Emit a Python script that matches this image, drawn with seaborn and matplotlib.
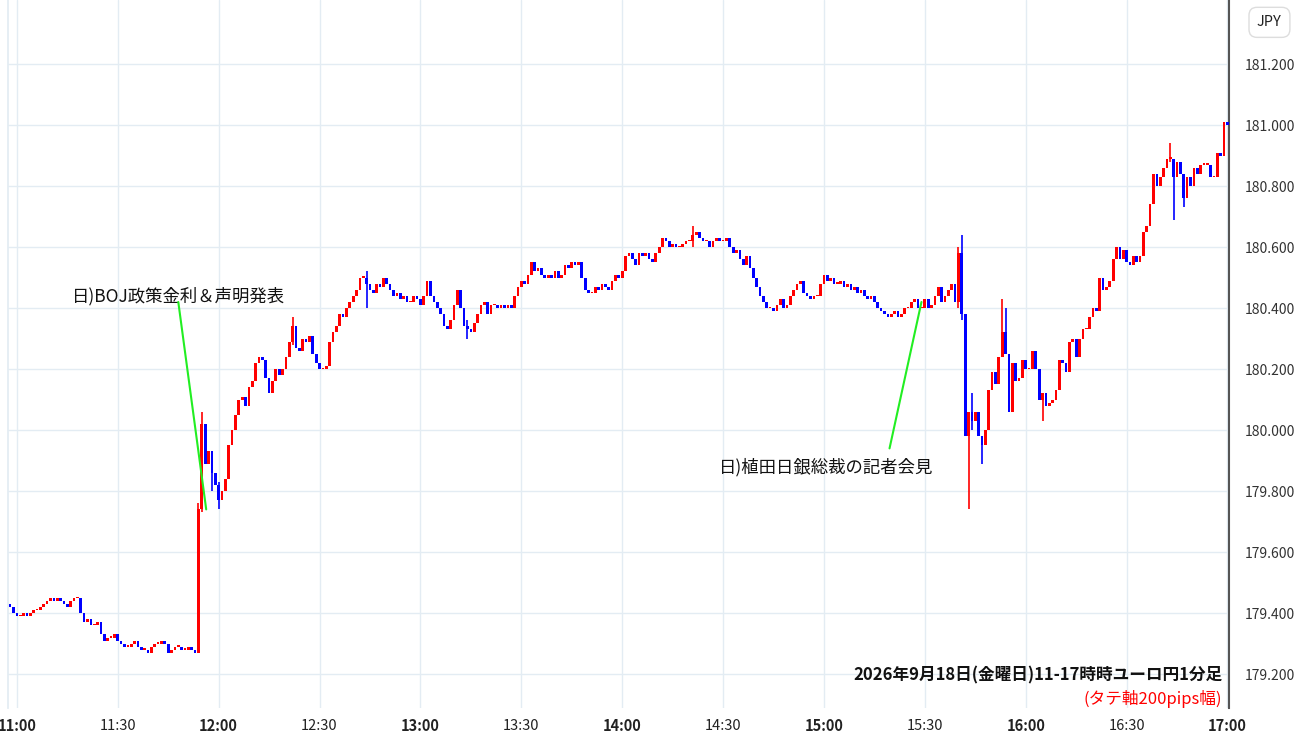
import numpy as np
import pandas as pd
import matplotlib
matplotlib.use("Agg")
import matplotlib.pyplot as plt
import seaborn as sns

sns.set_theme(style="white")
plt.rcParams['font.family'] = ['Noto Sans CJK JP', 'DejaVu Sans']

# 1-minute closes, EUR/JPY, starting 10:57
closes = [
    179.43, 179.42, 179.40, 179.39,
    179.39, 179.40, 179.39, 179.40, 179.41, 179.41, 179.42, 179.43, 179.44, 179.45,
    179.44, 179.45, 179.44, 179.43, 179.42, 179.44, 179.45, 179.45, 179.40, 179.37,
    179.38, 179.36, 179.36, 179.37, 179.33, 179.31, 179.32, 179.32, 179.33, 179.31,
    179.30, 179.29, 179.29, 179.30, 179.31, 179.29, 179.28, 179.28, 179.27, 179.29,
    179.30, 179.30, 179.31, 179.30, 179.27, 179.28, 179.29, 179.29, 179.28, 179.28,
    179.29, 179.28, 179.27, 179.74, 180.02, 179.89, 179.93, 179.86, 179.82, 179.77,
    179.80, 179.84, 179.95, 180.00, 180.05, 180.10, 180.11, 180.08, 180.14, 180.16,
    180.22, 180.24, 180.23, 180.17, 180.12, 180.16, 180.20, 180.18, 180.20, 180.24,
    180.29, 180.34, 180.27, 180.26, 180.30, 180.29, 180.31, 180.25, 180.22, 180.20,
    180.20, 180.21, 180.29, 180.32, 180.34, 180.38, 180.37, 180.40, 180.42, 180.44,
    180.46, 180.50, 180.50, 180.48, 180.46, 180.45, 180.48, 180.47, 180.50, 180.48,
    180.46, 180.44, 180.45, 180.43, 180.44, 180.42, 180.42, 180.44, 180.43, 180.41,
    180.44, 180.49, 180.44, 180.42, 180.40, 180.38, 180.34, 180.33, 180.36, 180.41,
    180.46, 180.40, 180.34, 180.33, 180.32, 180.35, 180.38, 180.41, 180.42, 180.38,
    180.41, 180.41, 180.40, 180.41, 180.40, 180.41, 180.40, 180.44, 180.47, 180.49,
    180.48, 180.51, 180.55, 180.52, 180.53, 180.51, 180.50, 180.51, 180.50, 180.52,
    180.50, 180.51, 180.54, 180.53, 180.55, 180.54, 180.55, 180.50, 180.46, 180.45,
    180.45, 180.47, 180.46, 180.48, 180.47, 180.46, 180.49, 180.51, 180.50, 180.52,
    180.57, 180.58, 180.56, 180.54, 180.58, 180.57, 180.58, 180.56, 180.55, 180.58,
    180.60, 180.63, 180.62, 180.60, 180.61, 180.60, 180.60, 180.61, 180.62, 180.62,
    180.64, 180.65, 180.63, 180.62, 180.62, 180.60, 180.62, 180.63, 180.62, 180.62,
    180.63, 180.60, 180.58, 180.59, 180.56, 180.54, 180.57, 180.53, 180.50, 180.47,
    180.44, 180.42, 180.40, 180.40, 180.39, 180.41, 180.43, 180.40, 180.41, 180.44,
    180.46, 180.48, 180.49, 180.45, 180.44, 180.43, 180.44, 180.44, 180.48, 180.51,
    180.49, 180.50, 180.48, 180.48, 180.49, 180.47, 180.48, 180.46, 180.47, 180.45,
    180.46, 180.44, 180.43, 180.44, 180.42, 180.40, 180.39, 180.38, 180.37, 180.38,
    180.39, 180.37, 180.38, 180.40, 180.40, 180.42, 180.43, 180.40, 180.40, 180.43,
    180.40, 180.41, 180.44, 180.47, 180.42, 180.44, 180.46, 180.48, 180.42, 180.58,
    180.38, 179.98, 180.06, 180.03, 180.06, 179.98, 179.95, 180.00, 180.13, 180.19,
    180.15, 180.24, 180.32, 180.25, 180.06, 180.22, 180.16, 180.17, 180.23, 180.20,
    180.20, 180.26, 180.20, 180.10, 180.12, 180.08, 180.09, 180.10, 180.13, 180.23,
    180.22, 180.19, 180.29, 180.30, 180.24, 180.30, 180.33, 180.33, 180.37, 180.40,
    180.39, 180.50, 180.46, 180.47, 180.49, 180.56, 180.60, 180.56, 180.59, 180.55,
    180.54, 180.57, 180.55, 180.57, 180.65, 180.67, 180.74, 180.84, 180.80, 180.83,
    180.86, 180.89, 180.89, 180.83, 180.88, 180.84, 180.76, 180.83, 180.80, 180.86,
    180.84, 180.87, 180.87, 180.87, 180.83, 180.83, 180.91, 180.90, 181.01, 181.00,
]
first_open = 179.44
# notable wick extremes: time -> (high, low)
wicks = {
    "11:54": (179.76, 179.27), "11:55": (180.06, 179.73), "11:58": (179.93, 179.80),
    "12:00": (179.83, 179.74), "12:22": (180.37, 180.28), "12:44": (180.52, 180.40),
    "13:14": (180.36, 180.30), "14:21": (180.67, 180.60), "15:40": (180.60, 180.40),
    "15:41": (180.64, 180.36), "15:43": (180.06, 179.74), "15:44": (180.12, 180.00),
    "15:47": (179.98, 179.89), "15:53": (180.43, 180.24), "15:54": (180.40, 180.25),
    "16:05": (180.12, 180.03), "16:43": (180.94, 180.88), "16:44": (180.89, 180.69),
    "16:47": (180.84, 180.73),
}
yticks = [179.2, 179.4, 179.6, 179.8, 180.0, 180.2, 180.4, 180.6, 180.8, 181.0, 181.2]
xtick_labels = ["11:00", "11:30", "12:00", "12:30", "13:00", "13:30", "14:00",
                "14:30", "15:00", "15:30", "16:00", "16:30", "17:00"]

times = pd.date_range("2026-09-18 10:57", periods=len(closes), freq="min")
df = pd.DataFrame({"time": times, "close": closes})
df["open"] = [first_open] + closes[:-1]
df["high"] = df[["open", "close"]].max(axis=1)
df["low"] = df[["open", "close"]].min(axis=1)
for t, (h, l) in wicks.items():
    m = df["time"].dt.strftime("%H:%M") == t
    df.loc[m, "high"] = h
    df.loc[m, "low"] = l
df["x"] = (df["time"] - pd.Timestamp("2026-09-18 11:00")).dt.total_seconds() / 60
df["up"] = df["close"] >= df["open"]
df["color"] = np.where(df["up"], "#ff0000", "#0000ff")

fig = plt.figure(figsize=(13, 7.45), dpi=100)
ax = fig.add_axes([0.006, 0.0497, 0.939, 0.9503])

ax.vlines(df["x"], df["low"], df["high"], colors=df["color"], linewidth=1.2, zorder=3)
body = (df["close"] - df["open"]).abs().clip(lower=0.004)
ax.bar(df["x"], body, bottom=df[["open", "close"]].min(axis=1), width=0.8,
       color=df["color"], linewidth=0, zorder=4)

ax.set_xlim(-2.7, 360.3)
ax.set_ylim(179.089, 181.41)
ax.set_yticks(yticks)
ax.set_xticks(np.arange(0, 361, 30))
ax.grid(True, color="#e3ecf3", linewidth=1)
ax.yaxis.tick_right()
ax.set_yticklabels([f"{v:.3f}" for v in yticks], fontsize=10, color="#333333")
ax.set_xticklabels([])
ax.tick_params(axis="both", length=0, pad=12)
for s in ["top", "bottom"]:
    ax.spines[s].set_visible(False)
ax.spines["left"].set_color("#e3ecf3")
ax.spines["right"].set_color("#555555")
ax.spines["right"].set_linewidth(1.5)

for i, lab in enumerate(xtick_labels):
    bold = lab.endswith(":00")
    ax.text(i * 30, -0.025, lab, transform=ax.get_xaxis_transform(), ha="center",
            va="center", fontsize=10.5, fontweight="bold" if bold else "normal",
            color="#222222")

fig.text(0.9765, 0.970, "JPY", ha="center", va="center", fontsize=10.5, color="#222222",
         bbox=dict(boxstyle="round,pad=0.55", fc="white", ec="#dddddd"))

# annotations
ax.plot([48, 56.3], [180.42, 179.74], color="#22ee22", linewidth=1.5, zorder=5)
ax.text(48, 180.41, "日)BOJ政策金利＆声明発表", ha="center", va="bottom", fontsize=12.5,
        color="#111111")
ax.plot([259.5, 269], [179.94, 180.42], color="#22ee22", linewidth=1.5, zorder=5)
ax.text(240.7, 179.91, "日)植田日銀総裁の記者会見", ha="center", va="top", fontsize=12.5,
        color="#111111")

ax.text(358.5, 179.165, "2026年9月18日(金曜日)11-17時時ユーロ円1分足", ha="right",
        va="bottom", fontsize=12, fontweight="bold", color="#111111")
ax.text(358.5, 179.09, "(タテ軸200pips幅)", ha="right", va="bottom", fontsize=12,
        color="#ff0000")

fig.savefig("out.png", dpi=100)
